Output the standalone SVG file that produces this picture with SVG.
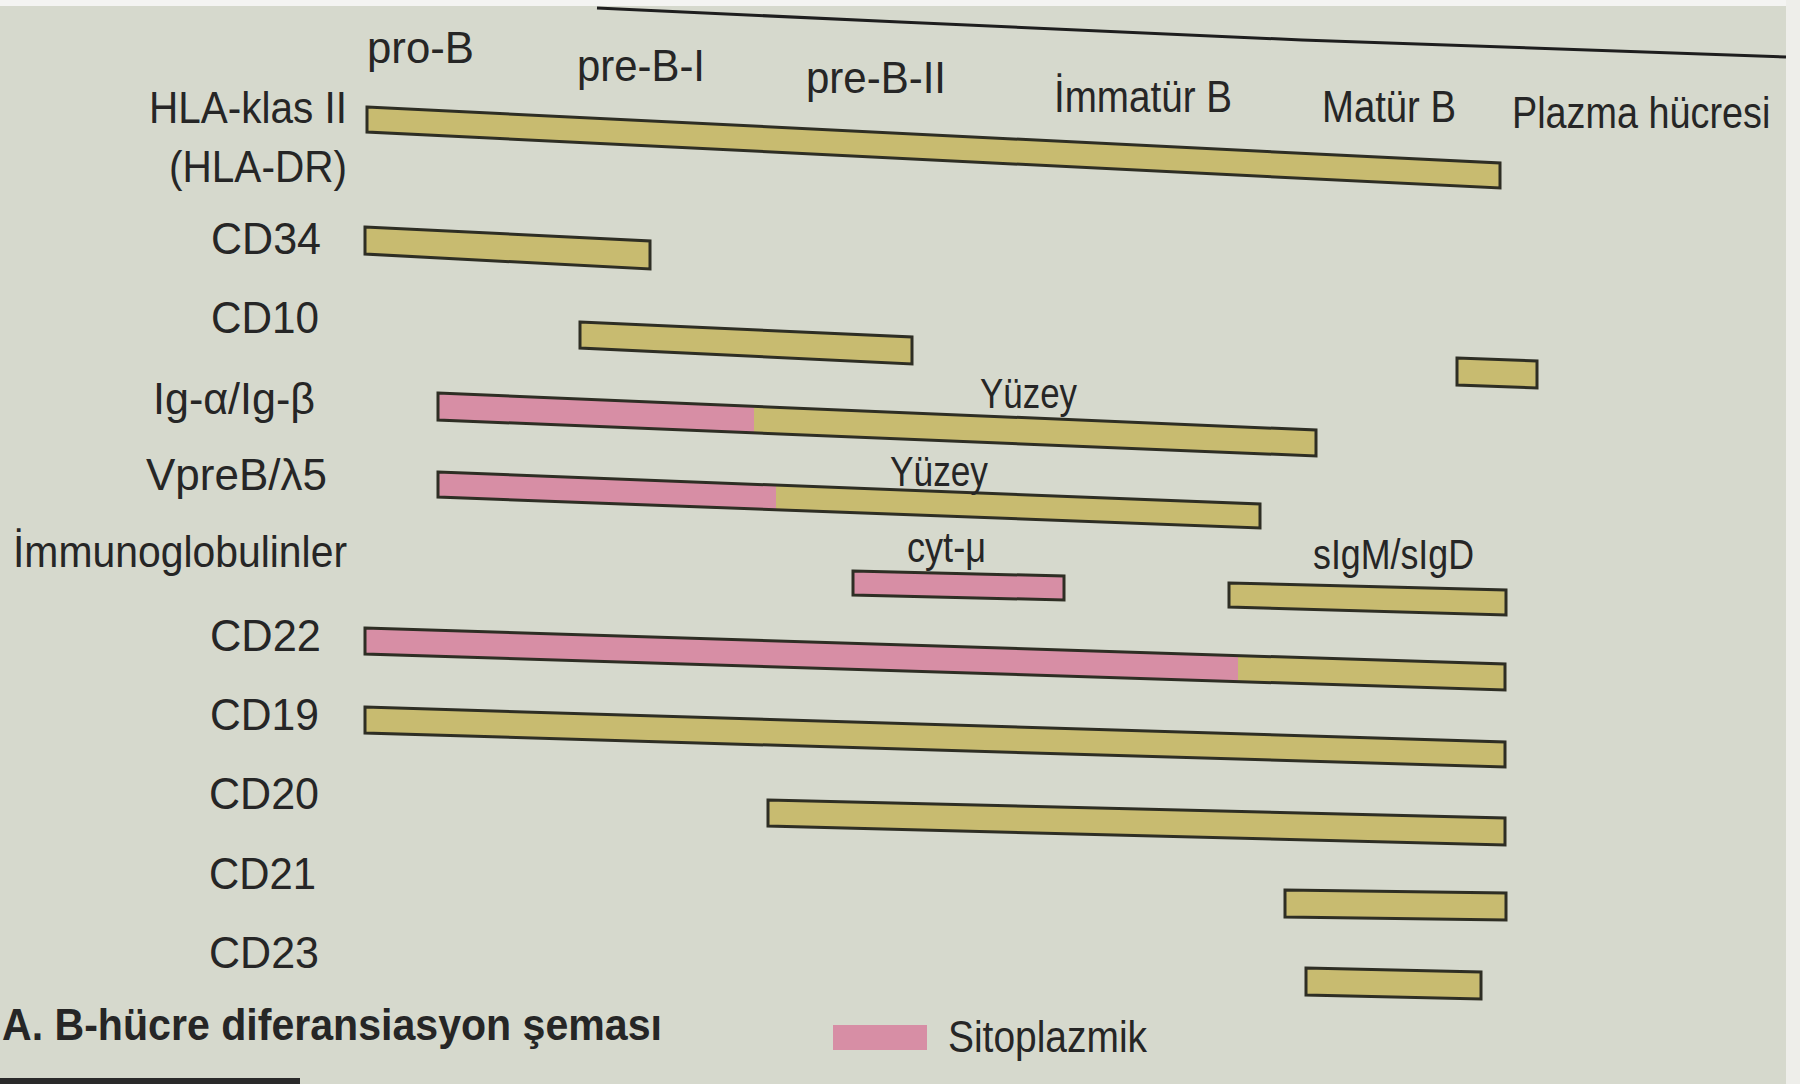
<svg xmlns="http://www.w3.org/2000/svg" width="1800" height="1084" viewBox="0 0 1800 1084">
<style>
text{font-family:"Liberation Sans",Arial,sans-serif;fill:#262626;font-size:45px}
.t{font-weight:bold;font-size:44px}
.s{font-size:43px}
.y{fill:#c8bb70;stroke:none}
.p{fill:#d78ea5;stroke:none}
.o{fill:none;stroke:#2e2e24;stroke-width:3;stroke-linejoin:miter}
.yo{fill:#c8bb70;stroke:#2e2e24;stroke-width:3}
.po{fill:#d78ea5;stroke:#2e2e24;stroke-width:3}
</style>
<rect x="0" y="0" width="1800" height="1084" fill="#d6d9cd"/>
<rect x="0" y="0" width="1800" height="6" fill="#f4f4f2"/>
<rect x="1786" y="0" width="14" height="1084" fill="#eeeeea"/>
<path d="M597 8 L900 22 L1302 40 L1786 57" fill="none" stroke="#1e1e1e" stroke-width="3"/>
<rect x="0" y="1078" width="300" height="6" fill="#2a2a2a"/>

<g id="headers">
<text x="367" y="63" textLength="107" lengthAdjust="spacingAndGlyphs">pro-B</text>
<text x="577" y="81" textLength="128" lengthAdjust="spacingAndGlyphs">pre-B-I</text>
<text x="806" y="93" textLength="140" lengthAdjust="spacingAndGlyphs">pre-B-II</text>
<text x="1054" y="112" textLength="178" lengthAdjust="spacingAndGlyphs">İmmatür B</text>
<text x="1322" y="122" textLength="134" lengthAdjust="spacingAndGlyphs">Matür B</text>
<text transform="translate(1512 128) scale(0.84 1)" x="0" y="0">Plazma hücresi</text>
</g>

<g id="labels">
<text x="149" y="123" textLength="198" lengthAdjust="spacingAndGlyphs">HLA-klas II</text>
<text x="169" y="182" textLength="178" lengthAdjust="spacingAndGlyphs">(HLA-DR)</text>
<text x="211" y="254" textLength="110" lengthAdjust="spacingAndGlyphs">CD34</text>
<text x="211" y="333" textLength="108" lengthAdjust="spacingAndGlyphs">CD10</text>
<text x="153" y="414" textLength="162" lengthAdjust="spacingAndGlyphs">Ig-α/Ig-β</text>
<text x="146" y="490" textLength="181" lengthAdjust="spacingAndGlyphs">VpreB/λ5</text>
<text x="13" y="567" textLength="334" lengthAdjust="spacingAndGlyphs">İmmunoglobulinler</text>
<text x="210" y="651" textLength="111" lengthAdjust="spacingAndGlyphs">CD22</text>
<text x="210" y="730" textLength="109" lengthAdjust="spacingAndGlyphs">CD19</text>
<text x="209" y="809" textLength="110" lengthAdjust="spacingAndGlyphs">CD20</text>
<text x="209" y="889" textLength="107" lengthAdjust="spacingAndGlyphs">CD21</text>
<text x="209" y="968" textLength="110" lengthAdjust="spacingAndGlyphs">CD23</text>
</g>

<g id="bar-hla"><polygon class="yo" points="367,107 1500,163 1500,188 367,132"/></g>
<g id="bar-cd34"><polygon class="yo" points="365,227 650,241 650,269 365,254"/></g>
<g id="bar-cd10"><polygon class="yo" points="580,322 912,337 912,364 580,348"/></g>
<g id="bar-cd10-plasma"><polygon class="yo" points="1457,358 1537,361 1537,388 1457,385"/></g>
<g id="bar-igab">
<polygon class="p" points="438,393 754,406 754,433 438,420"/>
<polygon class="y" points="754,406 1316,430 1316,456 754,433"/>
<polygon class="o" points="438,393 1316,430 1316,456 438,420"/>
<text class="s" x="980" y="408" textLength="97" lengthAdjust="spacingAndGlyphs">Yüzey</text>
</g>
<g id="bar-vpreb">
<polygon class="p" points="438,472 776,485 776,510 438,497"/>
<polygon class="y" points="776,485 1260,504 1260,528 776,510"/>
<polygon class="o" points="438,472 1260,504 1260,528 438,497"/>
<text class="s" x="890" y="486" textLength="98" lengthAdjust="spacingAndGlyphs">Yüzey</text>
</g>
<g id="bar-cytmu">
<text class="s" x="907" y="562" textLength="79" lengthAdjust="spacingAndGlyphs">cyt-μ</text>
<polygon class="po" points="853,571 1064,576 1064,600 853,595"/>
</g>
<g id="bar-sigm">
<text class="s" x="1313" y="569" textLength="161" lengthAdjust="spacingAndGlyphs">sIgM/sIgD</text>
<polygon class="yo" points="1229,583 1506,590 1506,615 1229,607"/>
</g>
<g id="bar-cd22">
<polygon class="p" points="365,628 1238,656 1238,682 365,654"/>
<polygon class="y" points="1238,656 1505,664 1505,690 1238,682"/>
<polygon class="o" points="365,628 1505,664 1505,690 365,654"/>
</g>
<g id="bar-cd19"><polygon class="yo" points="365,707 1505,742 1505,767 365,733"/></g>
<g id="bar-cd20"><polygon class="yo" points="768,800 1505,818 1505,845 768,826"/></g>
<g id="bar-cd21"><polygon class="yo" points="1285,890 1506,893 1506,920 1285,917"/></g>
<g id="bar-cd23"><polygon class="yo" points="1306,968 1481,972 1481,999 1306,995"/></g>

<g id="title"><text class="t" x="2" y="1040" textLength="660" lengthAdjust="spacingAndGlyphs">A. B-hücre diferansiasyon şeması</text></g>
<g id="legend">
<rect x="833" y="1025" width="94" height="25" fill="#d78ea5"/>
<text x="948" y="1052" textLength="199" lengthAdjust="spacingAndGlyphs">Sitoplazmik</text>
</g>
</svg>
